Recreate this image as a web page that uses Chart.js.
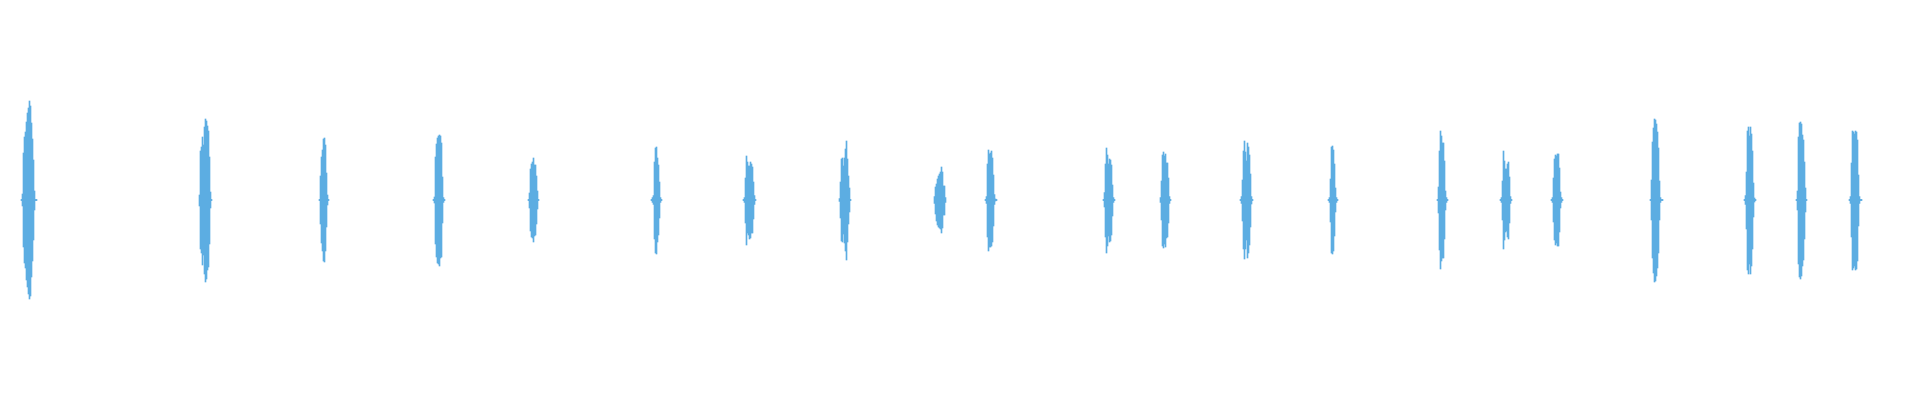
<!DOCTYPE html>
<html>
<head>
<meta charset="utf-8">
<script src="https://cdn.jsdelivr.net/npm/chart.js@4"></script>
<style>
html,body{margin:0;padding:0;background:#ffffff;}
#wrap{width:1920px;height:400px;}
</style>
</head>
<body>
<div id="wrap"><canvas id="c" width="1920" height="400"></canvas></div>
<script>
// Waveform peaks, one value per pixel column (percent of full scale).
// Each burst: first column index, positive peaks (max) and negative peaks (min, as magnitudes).
const burstStart = [21, 199, 319, 433, 528, 651, 743, 839, 934, 985, 1103, 1160, 1240, 1328, 1437, 1500, 1551, 1650, 1744, 1796, 1849];

const burstMax = [
  [0.3,3,23.5,31.5,34,39,43.5,46,49.5,47,38.5,30.5,20,4.5,0.3,0.3],
  [2.5,24.5,26.5,31.5,27.5,36.5,40.5,39.5,37,34.5,21.5,4,0.3],
  [0.3,12,21.5,25,30.5,31,27.5,13.5,2.5,0.3],
  [0.3,1.5,21.5,28,31,32,32.5,32,28.5,11.5,1.2,0.3],
  [0.3,3.5,15.5,18,19,21,17.5,17.5,12,4.5,0.3],
  [0.3,1.2,2.2,19,26,26.5,21,17.5,9,1.2,0.3],
  [0.3,1.2,11,22,19,17,17,19,18,16.5,9,2.2,0.3],
  [0.7,9,20.5,21,17,21,25.5,29.5,20.5,12,6,0.3],
  [1.7,6.5,8,10.5,12,13,14,16.5,14,7,7,1.2],
  [0.3,1.7,18,25,23,23.5,24.5,21,12.5,2.7,0.5,0.3],
  [0.3,3.7,18,26,22.5,18,20.5,20,17.5,7.5,1.2,0.3],
  [1.2,9.5,22.5,24,22,23,18.5,18.5,11,1.7,0.3],
  [0.3,1.7,10,24.5,29.5,24,19.5,28.5,26.5,22.5,13,1.7,0.3],
  [0.3,1.2,10.5,26.5,27,25,18,6,1.2,0.3],
  [0.3,6.5,24.5,34.5,32,28.5,28.5,19.5,4.5,1.2,0.3],
  [0.3,1.2,9.5,24.5,19.5,15.5,15.5,18,19,11.5,1.7,0.3],
  [0.3,1.2,11,20.5,22.5,22,23,23,16,4,1.2,0.3],
  [0.3,10,29,36,40.5,40,38,34,26,9.5,1.2,0.3,0.3],
  [0.3,2.2,14,34.5,36.5,32,36.5,33,24.5,8.5,1,0.3],
  [0.3,4.5,31.5,38.5,39,38,32.5,30,19,6,0.3],
  [0.3,1.7,18.5,34.5,34,33,34.5,34,30,12.5,1.7,0.3,0.3]
];

const burstMin = [
  [0.3,3,23.5,31.5,34,40,43.5,47,49.5,48,38.5,30.5,20,5,0.3,0.3],
  [3,24.5,26.5,32.5,27.5,37,41,39.5,35,33.5,22,4,0.3],
  [0.3,12,21.5,25.5,30.5,31,25.5,13.5,2.5,0.3],
  [0.3,1.5,22,28.5,31.5,32,33,29,28.5,11.5,1.2,0.3],
  [0.3,4,15.5,18.5,19,21,18,17.5,12,4.5,0.3],
  [0.3,1.2,2.2,19.5,26.5,27,21,17.5,9,1.2,0.3],
  [0.3,1.2,11.5,22.5,16.5,17.5,19.5,19,16.5,16.5,9.5,2.2,0.3],
  [0.7,9,20.5,21,17,21.5,25.5,30,21,12,6,0.3],
  [1.7,7,10.5,12.5,13.5,14,14.5,16.5,14,7.5,7.5,1.2],
  [0.3,1.7,18.5,25.5,23.5,23.5,23,21,13,2.2,0.5,0.3],
  [0.3,3.5,18.5,26.5,23,18,21,20.5,17.5,8,1.2,0.3],
  [1.2,10,23,24,22,23.5,19,18.5,11.5,1.7,0.3],
  [0.3,1.7,10.5,24.5,29.5,24.5,20,29,26.5,22.5,13.5,2,0.3],
  [0.3,1.2,11,26.5,27,25.5,18,6,1.2,0.3],
  [0.3,6.5,25,34.5,30.5,29,29,19.5,5,1.2,0.3],
  [0.3,1.2,10,24.5,20,16,15.5,18.5,19.5,11.5,1.7,0.3],
  [0.3,1.2,11,20,22.5,21.5,23,23,16,4,1.2,0.3],
  [0.3,10,29,36.5,41,40.5,38,34,26.5,10,1.2,0.3,0.3],
  [0.3,2.2,14.5,35,37,32,37,33,24.5,8.5,1,0.3],
  [0.3,5,32,38.5,39.5,38,33,30,19.5,6,0.3],
  [0.3,1.7,18.5,35,34,33,35,34.5,30.5,13,1.7,0.3,0.3]
];

const totalColumns = 1920;
const waveColor = '#5DADE2';

const points = [];
burstStart.forEach((start, b) => {
  burstMax[b].forEach((hi, i) => {
    points.push({ x: start + i + 0.5, y: [-burstMin[b][i], hi] });
  });
});

new Chart(document.getElementById('c'), {
  type: 'bar',
  data: {
    datasets: [{
      data: points,
      backgroundColor: waveColor,
      borderWidth: 0,
      barThickness: 1,
      grouped: false
    }]
  },
  options: {
    responsive: false,
    animation: false,
    devicePixelRatio: 1,
    layout: { padding: 0 },
    plugins: { legend: { display: false }, tooltip: { enabled: false } },
    scales: {
      x: { type: 'linear', min: 0, max: totalColumns, offset: false, bounds: 'ticks', display: false, grid: { offset: false } },
      y: { min: -100, max: 100, display: false }
    }
  }
});
</script>
</body>
</html>
